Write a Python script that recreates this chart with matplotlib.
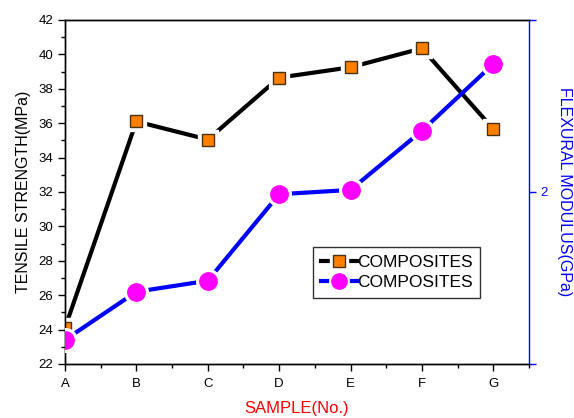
import matplotlib
matplotlib.use("Agg")
import matplotlib.pyplot as plt
from matplotlib.lines import Line2D
from matplotlib.ticker import MultipleLocator, FixedLocator

plt.rcParams['font.family'] = ['Liberation Sans', 'DejaVu Sans']

samples = ['A', 'B', 'C', 'D', 'E', 'F', 'G']
tensile = [24.1, 36.1, 35.05, 38.65, 39.25, 40.35, 35.66]
flexural = [1.14, 1.42, 1.484, 1.987, 2.012, 2.356, 2.744]
series_labels = ['COMPOSITES', 'COMPOSITES']

x = list(range(len(samples)))

fig = plt.figure(figsize=(5.74, 4.18), dpi=100)
ax = fig.add_axes([0.1132, 0.1292, 0.8084, 0.8230])
ax2 = ax.twinx()

# black series
ax.plot(x, tensile, color='black', lw=3, zorder=2)
ax.plot(x, tensile, ls='none', marker='s', ms=14, mfc='white', mec='white', zorder=3)
ax.plot(x, tensile, ls='none', marker='s', ms=9, mfc='#ff8000', mec='#4a3010', mew=1, zorder=4)

# blue series
ax2.plot(x, flexural, color='#0000ff', lw=3, zorder=2)
ax2.plot(x, flexural, ls='none', marker='o', ms=17, mfc='white', mec='white', zorder=3)
ax2.plot(x, flexural, ls='none', marker='o', ms=12.5, mfc='#ff00ff', mec='#ff00ff', zorder=4)

ax.set_xlim(0, 6.5)
ax.set_ylim(22, 42)
ax2.set_ylim(1, 3)

ax.set_xticks(x)
ax.set_xticklabels(samples)
ax.xaxis.set_minor_locator(MultipleLocator(0.5))
ax.yaxis.set_major_locator(MultipleLocator(2))
ax.yaxis.set_minor_locator(MultipleLocator(1))
ax.tick_params(axis='both', which='major', direction='out', length=5, width=1, labelsize=9.5, colors='black')
ax.tick_params(axis='both', which='minor', direction='out', length=3, width=1)
ax.tick_params(axis='x', which='both', top=False)
ax.tick_params(axis='x', pad=5)

ax2.yaxis.set_major_locator(FixedLocator([1, 2, 3]))
ax2.set_yticklabels(['', '2', ''])
ax2.tick_params(axis='y', which='major', direction='out', length=5, width=1, labelsize=9.5,
                colors='#0000ff')

for s in ['left', 'bottom', 'top']:
    ax.spines[s].set_linewidth(1)
    ax2.spines[s].set_linewidth(1)
ax2.spines['right'].set_color('#0000ff')
ax2.spines['right'].set_linewidth(1)
ax.spines['right'].set_visible(False)

ax.set_xlabel('SAMPLE(No.)', color='#ff0000', fontsize=12, labelpad=8)
ax.set_ylabel('TENSILE STRENGTH(MPa)', color='black', fontsize=11.5, labelpad=5)
ax2.set_ylabel('FLEXURAL MODULUS(GPa)', color='#0000ff', fontsize=11.5, rotation=270, labelpad=17)

h1 = (Line2D([], [], color='black', lw=3),
      Line2D([], [], ls='none', marker='s', ms=13, mfc='white', mec='white'),
      Line2D([], [], ls='none', marker='s', ms=9, mfc='#ff8000', mec='#4a3010', mew=1))
h2 = (Line2D([], [], color='#0000ff', lw=3),
      Line2D([], [], ls='none', marker='o', ms=14, mfc='white', mec='white'),
      Line2D([], [], ls='none', marker='o', ms=11, mfc='#ff00ff', mec='#ff00ff'))
leg = ax2.legend([h1, h2], series_labels, loc='upper left', bbox_to_anchor=(0.534, 0.34),
                 borderaxespad=0, fancybox=False, edgecolor='#333333', framealpha=1,
                 fontsize=12.5, handlelength=2.1, handletextpad=0.0, labelspacing=0.3,
                 borderpad=0.45)
leg.get_frame().set_linewidth(1)

fig.savefig('out.png', dpi=100)
